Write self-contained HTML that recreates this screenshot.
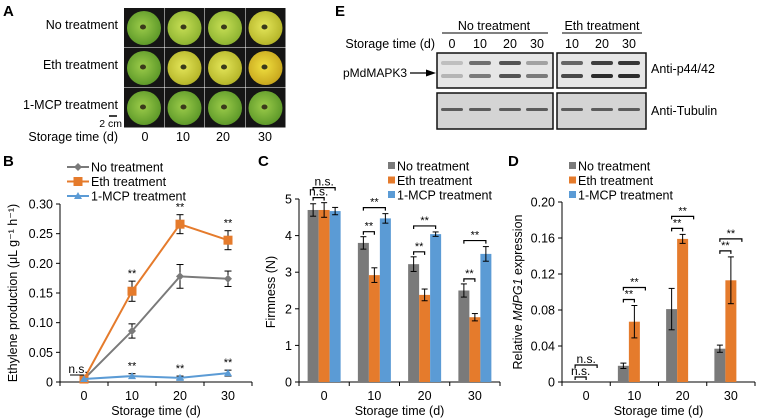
<!DOCTYPE html>
<html><head><meta charset="utf-8"><style>
html,body{margin:0;padding:0;background:#fff;}
svg{display:block;font-family:"Liberation Sans",Arial,sans-serif;}
</style></head><body>
<svg id="fig" width="760" height="420" viewBox="0 0 760 420">
<defs>
<radialGradient id="apG" cx="45%" cy="45%" r="55%"><stop offset="0" stop-color="#9ccc4a"/><stop offset="1" stop-color="#5f9a2a"/></radialGradient>
<radialGradient id="apY" cx="45%" cy="45%" r="55%"><stop offset="0" stop-color="#e4e65a"/><stop offset="1" stop-color="#b6b62a"/></radialGradient>
<radialGradient id="apYG" cx="45%" cy="45%" r="55%"><stop offset="0" stop-color="#c7df55"/><stop offset="1" stop-color="#8fb432"/></radialGradient>
<radialGradient id="apO" cx="45%" cy="45%" r="55%"><stop offset="0" stop-color="#f0e040"/><stop offset="1" stop-color="#c9a81e"/></radialGradient>
</defs>

<g>
<text x="3" y="16" font-size="15" font-weight="bold">A</text>
<text x="118" y="29" font-size="12.5" text-anchor="end">No treatment</text>
<text x="118" y="69" font-size="12.5" text-anchor="end">Eth treatment</text>
<text x="118" y="109" font-size="12.5" text-anchor="end">1-MCP treatment</text>
<line x1="109" y1="116" x2="117" y2="116" stroke="#000" stroke-width="1.5"/>
<text x="122" y="127" font-size="10.5" text-anchor="end">2 cm</text>
<text x="118" y="141" font-size="12.5" text-anchor="end">Storage time (d)</text>
<g id="apples"></g>
</g>

<g>
<text x="335" y="16" font-size="15" font-weight="bold">E</text>
<text x="494" y="30" font-size="12.5" text-anchor="middle">No treatment</text>
<line x1="442" y1="33" x2="548" y2="33" stroke="#000" stroke-width="1"/>
<text x="602" y="30" font-size="12.5" text-anchor="middle">Eth treatment</text>
<line x1="562" y1="33" x2="642" y2="33" stroke="#000" stroke-width="1"/>
<text x="435" y="48" font-size="12.5" text-anchor="end">Storage time (d)</text>
<g font-size="12.5" text-anchor="middle">
<text x="452" y="48">0</text><text x="480" y="48">10</text><text x="510" y="48">20</text><text x="537" y="48">30</text>
<text x="572" y="48">10</text><text x="602" y="48">20</text><text x="629" y="48">30</text>
</g>
<text x="343" y="77" font-size="12">pMdMAPK3</text>
<line x1="410" y1="73" x2="428" y2="73" stroke="#000" stroke-width="1.2"/>
<polygon points="436,73 426,69.5 426,76.5" fill="#000"/>
<rect x="437" y="53" width="116" height="35" fill="#e6e6e6" stroke="#111" stroke-width="1.5"/>
<rect x="557" y="53" width="89" height="35" fill="#e6e6e6" stroke="#111" stroke-width="1.5"/>
<rect x="437" y="93" width="116" height="36" fill="#d4d4d4" stroke="#111" stroke-width="1.5"/>
<rect x="557" y="93" width="89" height="36" fill="#d4d4d4" stroke="#111" stroke-width="1.5"/>
<g id="bands"></g>
<text x="651" y="73" font-size="12.5">Anti-p44/42</text>
<text x="651" y="115" font-size="12.5">Anti-Tubulin</text>
</g>

<g id="panelB"></g>
<g id="panelC"></g>
<g id="panelD"></g>
</svg>
<script>
const NS="http://www.w3.org/2000/svg";
function mk(parent,tag,attrs,txt){const e=document.createElementNS(NS,tag);for(const k in attrs)e.setAttribute(k,attrs[k]);if(txt!==undefined)e.textContent=txt;parent.appendChild(e);return e;}

const categories=["0","10","20","30"];
const seriesNames=["No treatment","Eth treatment","1-MCP treatment"];
const colors=["#7a7a7a","#e57b2c","#5b9bd5"];
const ethNo=[0.005,0.086,0.178,0.174];
const ethNoErr=[0.002,0.012,0.02,0.013];
const ethEth=[0.005,0.153,0.266,0.239];
const ethEthErr=[0.002,0.017,0.016,0.016];
const ethMcp=[0.005,0.010,0.007,0.015];
const ethMcpErr=[0.002,0.004,0.003,0.005];
const ethTicks=["0","0.05","0.10","0.15","0.20","0.25","0.30"];
const firmNo=[4.7,3.8,3.22,2.5];
const firmNoErr=[0.17,0.17,0.2,0.18];
const firmEth=[4.7,2.92,2.38,1.77];
const firmEthErr=[0.2,0.2,0.16,0.1];
const firmMcp=[4.67,4.47,4.04,3.5];
const firmMcpErr=[0.1,0.13,0.06,0.2];
const firmTicks=["0","1","2","3","4","5"];
const pgNo=[0,0.018,0.081,0.037];
const pgNoErr=[0,0.003,0.023,0.004];
const pgEth=[0,0.067,0.159,0.113];
const pgEthErr=[0,0.018,0.005,0.026];
const pgMcp=[0,0,0,0];
const pgMcpErr=[0,0,0,0];
const pgTicks=["0","0.04","0.08","0.12","0.16","0.20"];

const apG=document.getElementById('apples');
const appleFills=[["apG","apYG","apYG","apY"],["apG","apY","apY","apO"],["apG","apG","apG","apG"]];
for(let r=0;r<3;r++)for(let c=0;c<4;c++){
  const x=124+c*40.5,y=8+r*40;
  const cell=mk(apG,'rect',{x:x,y:y,width:40,height:39.5,fill:'#151515'});
  
  
  mk(apG,'circle',{cx:x+20,cy:y+20,r:17,fill:'url(#'+appleFills[r][c]+')'});
  mk(apG,'ellipse',{cx:x+19,cy:y+19,rx:3,ry:2.5,fill:'#3a3a1a'});
}
const aLab=[145,183,223,265];
aLab.forEach((x,i)=>{const t=mk(apG,'text',{x:x,y:141,'font-size':12.5,'text-anchor':'middle'},categories[i]);

});

const bg=document.getElementById('bands');
const laneX=[452,480,510,537,572,602,629];
const upper=[0.2,0.6,0.75,0.35,0.65,0.85,0.9];
const lower=[0.25,0.55,0.75,0.55,0.8,0.95,0.95];
laneX.forEach((x,i)=>{
  mk(bg,'rect',{x:x-11,y:61,width:22,height:4,rx:2,fill:'#222','fill-opacity':upper[i]});
  mk(bg,'rect',{x:x-11,y:74,width:22,height:4,rx:2,fill:'#222','fill-opacity':lower[i]});
  mk(bg,'rect',{x:x-11,y:108,width:22,height:3,rx:1.5,fill:'#333','fill-opacity':0.75});
});

function axes(g,o){
  const ys=v=>o.y0-(v/o.max)*(o.y0-o.yTop);
  const cw=(o.x1-o.x0)/4;
  const xs=i=>o.x0+cw*(i+0.5);
  mk(g,'line',{x1:o.x0,y1:o.yTop,x2:o.x0,y2:o.y0,stroke:'#000','stroke-width':1});
  mk(g,'line',{x1:o.x0,y1:o.y0,x2:o.x1,y2:o.y0,stroke:'#000','stroke-width':1});
  o.ticks.forEach((t,i)=>{const v=o.max*i/(o.ticks.length-1);const y=ys(v);
    mk(g,'line',{x1:o.x0-4,y1:y,x2:o.x0,y2:y,stroke:'#000'});
    const tl=mk(g,'text',{x:o.x0-7,y:y+4.5,'font-size':12.5,'text-anchor':'end'},t);
    
    
  });
  for(let i=0;i<=4;i++){mk(g,'line',{x1:o.x0+cw*i,y1:o.y0,x2:o.x0+cw*i,y2:o.y0+4,stroke:'#000'});}
  categories.forEach((c,i)=>{const t=mk(g,'text',{x:xs(i),y:o.y0+18,'font-size':12.5,'text-anchor':'middle'},c);
    
    });
  const xt=mk(g,'text',{x:(o.x0+o.x1)/2,y:o.y0+33,'font-size':12.5,'text-anchor':'middle'},'Storage time (d)');
  
  
  return {ys,xs,cw};
}
function errbar(g,x,yv,yl,yh,w){
  mk(g,'line',{x1:x,y1:yh,x2:x,y2:yl,stroke:'#000','stroke-width':1});
  mk(g,'line',{x1:x-w,y1:yh,x2:x+w,y2:yh,stroke:'#000','stroke-width':1});
  mk(g,'line',{x1:x-w,y1:yl,x2:x+w,y2:yl,stroke:'#000','stroke-width':1});
}
function legend(g,x,y,type){
  seriesNames.forEach((n,i)=>{const yy=y+i*14.5;
    const le=mk(g,'g',{});
    
    
    if(type==='line'){
      mk(le,'line',{x1:x,y1:yy,x2:x+22,y2:yy,stroke:colors[i],'stroke-width':2});
      marker(le,x+11,yy,i);
      mk(le,'text',{x:x+24,y:yy+4.5,'font-size':12.5},n);
    }else{
      mk(le,'rect',{x:x,y:yy-4,width:7,height:7,fill:colors[i]});
      mk(le,'text',{x:x+9,y:yy+4.5,'font-size':12.5},n);
    }
  });
}
function marker(g,x,y,i){
  if(i===0)return mk(g,'polygon',{points:`${x},${y-4} ${x+4},${y} ${x},${y+4} ${x-4},${y}`,fill:colors[0]});
  if(i===1)return mk(g,'rect',{x:x-4.5,y:y-4.5,width:9,height:9,fill:colors[1]});
  return mk(g,'polygon',{points:`${x},${y-4} ${x+4},${y+3} ${x-4},${y+3}`,fill:colors[2]});
}
function stars(g,x,y){const t=mk(g,'text',{x:x,y:y,'font-size':11,'text-anchor':'middle'},'**');
  
  }
function bracket(g,xa,xb,y,label){
  mk(g,'path',{d:`M${xa},${y+3}V${y}H${xb}V${y+3}`,fill:'none',stroke:'#000','stroke-width':1.2});
  const t=mk(g,'text',{x:(xa+xb)/2,y:y-2,'font-size':label==='**'?11:12,'text-anchor':'middle'},label);
  
  
}

(function(){
  const g=document.getElementById('panelB');
  mk(g,'text',{x:3,y:166,'font-size':15,'font-weight':'bold'},'B');
  const A=axes(g,{x0:60,x1:252,y0:382,yTop:204,max:0.30,ticks:ethTicks});
  const yt=mk(g,'text',{transform:'translate(17,293) rotate(-90)','font-size':12.5,'text-anchor':'middle'},'Ethylene production (μL g⁻¹ h⁻¹)');
  
  
  legend(g,67,167,'line');
  const S=[[ethNo,ethNoErr],[ethEth,ethEthErr],[ethMcp,ethMcpErr]];
  S.forEach(([v,e],si)=>{
    const pts=v.map((d,i)=>A.xs(i)+','+A.ys(d)).join(' ');
    const pl=mk(g,'polyline',{points:pts,fill:'none',stroke:colors[si],'stroke-width':2});
    
    
    v.forEach((d,i)=>{if(e[i]>0.0025)errbar(g,A.xs(i),d,A.ys(d-e[i]),A.ys(d+e[i]),3.5);
      const m=marker(g,A.xs(i),A.ys(d),si);
      
      });
  });
  for(let i=1;i<4;i++){stars(g,A.xs(i),A.ys(ethEth[i]+ethEthErr[i])-4);stars(g,A.xs(i),A.ys(ethMcp[i]+ethMcpErr[i])-4);}
  mk(g,'text',{x:A.xs(0)-6,y:373,'font-size':12,'text-anchor':'middle'},'n.s.');
  mk(g,'line',{x1:A.xs(0)-14,y1:375,x2:A.xs(0),y2:375,stroke:'#000'});
})();

function barPanel(gid,o,S,letter,ytitle,legX,legY,ytx){
  const g=document.getElementById(gid);
  mk(g,'text',{x:letter.x,y:166,'font-size':15,'font-weight':'bold'},letter.t);
  const A=axes(g,o);
  const yt=mk(g,'text',{transform:`translate(${ytx},292) rotate(-90)`,'font-size':12.5,'text-anchor':'middle'});
  yt.innerHTML=ytitle;
  
  
  legend(g,legX,legY,'bar');
  const bw=11;
  const bx=(i,si)=>A.xs(i)+(si-1.5)*bw;
  S.forEach(([v,e],si)=>{
    v.forEach((d,i)=>{
      if(d>0){const b=mk(g,'rect',{x:bx(i,si),y:A.ys(d),width:bw,height:o.y0-A.ys(d),fill:colors[si]});
        
        
        errbar(g,bx(i,si)+bw/2,d,A.ys(d-e[i]),A.ys(d+e[i]),3);}
    });
  });
  return {g,A,bx,bw};
}

(function(){
  const S=[[firmNo,firmNoErr],[firmEth,firmEthErr],[firmMcp,firmMcpErr]];
  const P=barPanel('panelC',{x0:299,x1:500,y0:382,yTop:199,max:5,ticks:firmTicks},S,{x:258,t:'C'},'Firmness (N)',388,166,275);
  const top=(v,e,i)=>P.A.ys(v[i]+e[i]);
  for(let i=0;i<4;i++){
    const c0=P.bx(i,0)+P.bw/2,c1=P.bx(i,1)+P.bw/2,c2=P.bx(i,2)+P.bw/2;
    const lo=Math.min(top(firmNo,firmNoErr,i),top(firmEth,firmEthErr,i))-5;
    const lab=i===0?'n.s.':'**';
    bracket(P.g,c0,c1,lo,lab);
    const hi=i===0?lo-10:Math.min(top(firmNo,firmNoErr,i),top(firmMcp,firmMcpErr,i))-6;
    bracket(P.g,c0,c2,hi,lab);
  }
})();

(function(){
  const S=[[pgNo,pgNoErr],[pgEth,pgEthErr],[pgMcp,pgMcpErr]];
  const P=barPanel('panelD',{x0:562,x1:755,y0:382,yTop:202,max:0.20,ticks:pgTicks},S,{x:508,t:'D'},'Relative <tspan font-style="italic">MdPG1</tspan> expression',569,166,522);
  for(let i=0;i<4;i++){
    const c0=P.bx(i,0)+P.bw/2,c1=P.bx(i,1)+P.bw/2,c2=P.bx(i,2)+P.bw/2;
    const t=Math.min(P.A.ys(pgNo[i]+pgNoErr[i]),P.A.ys(pgEth[i]+pgEthErr[i]));
    const lab=i===0?'n.s.':'**';
    const lo=i===0?t-5:t-6;
    bracket(P.g,c0,c1,lo,lab);
    bracket(P.g,c0,c2,lo-12,lab);
  }
})();
</script>
</body></html>
